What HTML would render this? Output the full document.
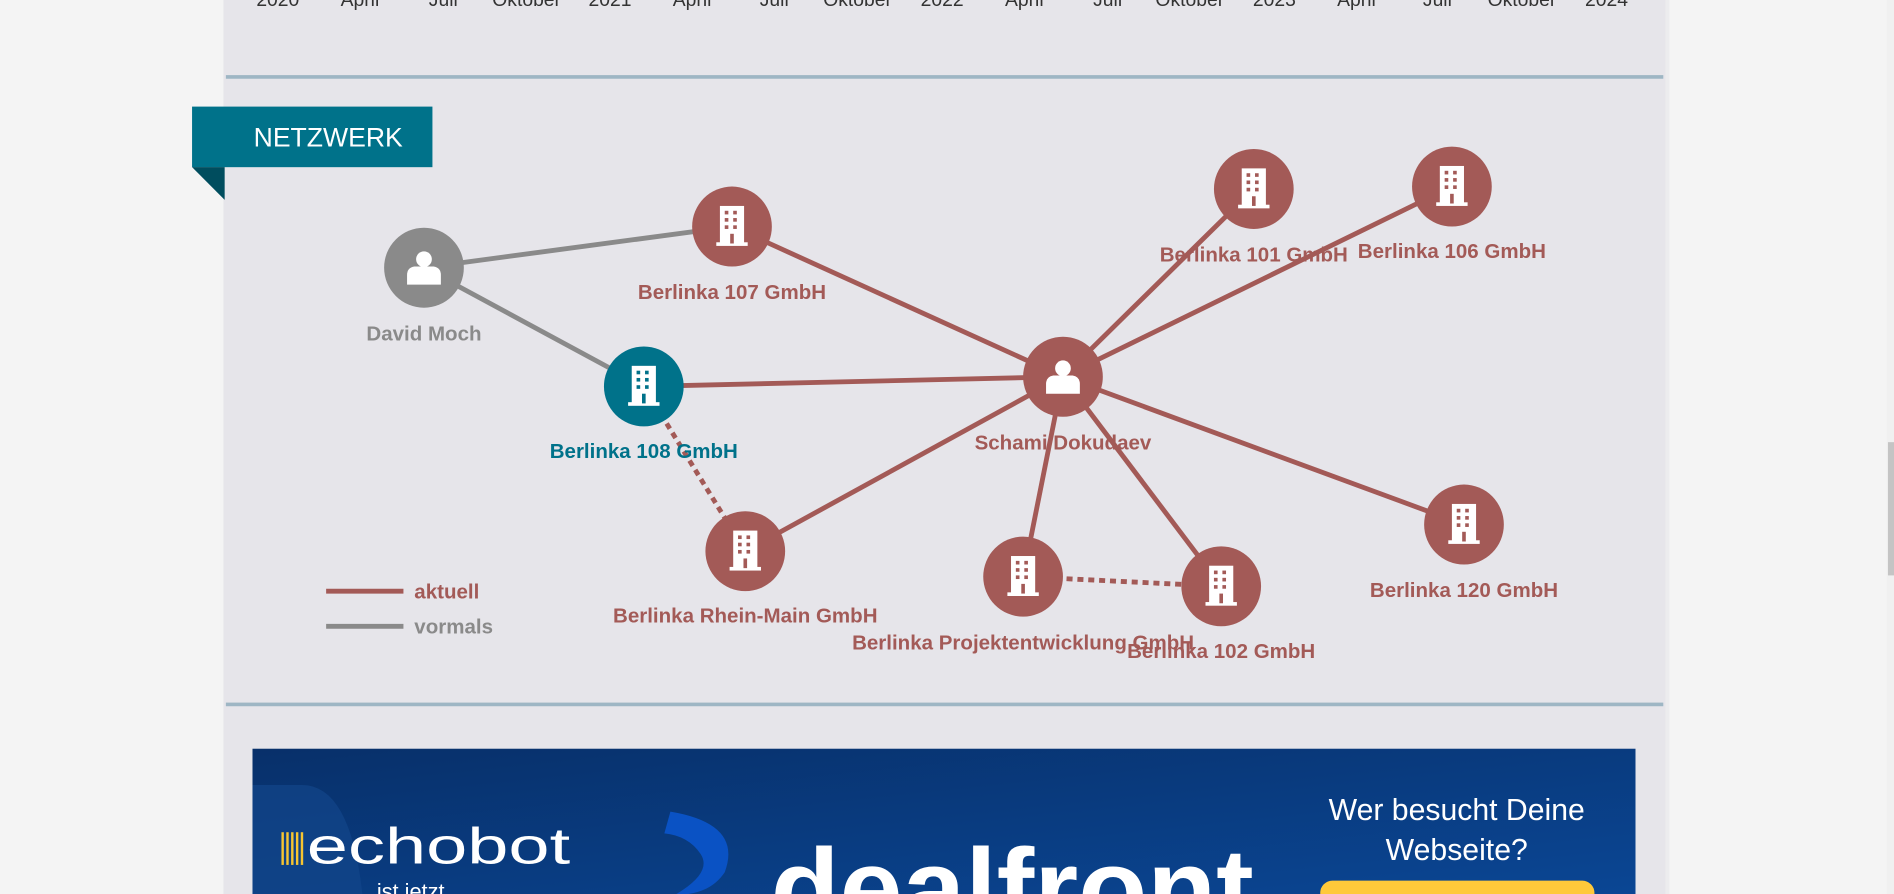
<!DOCTYPE html>
<html><head><meta charset="utf-8"><style>
html,body{margin:0;padding:0;width:1894px;height:894px;overflow:hidden;background:#f4f4f4}
svg{display:block}
text{font-family:"Liberation Sans",sans-serif}
</style></head><body>
<svg width="1894" height="894" viewBox="0 0 1568 738" preserveAspectRatio="none" xmlns="http://www.w3.org/2000/svg">
<defs>
<g id="bld"><rect x="-10" y="-17" width="20" height="32" fill="#fff"/><rect x="-13" y="13" width="26" height="3" fill="#fff"/>
<g fill="#a35a57"><rect x="-6" y="-13" width="3" height="3"/><rect x="1" y="-13" width="3" height="3"/><rect x="-6" y="-7" width="3" height="3"/><rect x="1" y="-7" width="3" height="3"/><rect x="-6" y="-1" width="3" height="3"/><rect x="1" y="-1" width="3" height="3"/><rect x="-1.5" y="6" width="3" height="8"/></g></g>
<g id="per"><circle cx="0" cy="-7" r="6.5" fill="#fff"/><path d="M-14 14 V6 Q-14 0 -8 -1 H8 Q14 0 14 6 V14 Z" fill="#fff"/></g>
<linearGradient id="ad" x1="0" y1="0" x2="1" y2="1"><stop offset="0" stop-color="#08306a"/><stop offset="1" stop-color="#0a4694"/></linearGradient>
<clipPath id="adc"><rect x="209" y="618" width="1145" height="120"/></clipPath>
</defs>
<rect x="0" y="0" width="1568" height="738" fill="#f4f4f4"/>
<rect x="185" y="0" width="1194" height="738" fill="#e6e5ea"/>
<rect x="1379" y="0" width="3" height="738" fill="#ececee"/>
<rect x="1562" y="0" width="6" height="738" fill="#f0f0f0"/>
<rect x="1563" y="365" width="5" height="110" fill="#c4c4c4"/>
<g font-size="16" fill="#333" text-anchor="middle">
<text x="230" y="5">2020</text><text x="298" y="5">April</text><text x="367" y="5">Juli</text><text x="436" y="5">Oktober</text>
<text x="505" y="5">2021</text><text x="573" y="5">April</text><text x="641" y="5">Juli</text><text x="710" y="5">Oktober</text>
<text x="780" y="5">2022</text><text x="848" y="5">April</text><text x="917" y="5">Juli</text><text x="985" y="5">Oktober</text>
<text x="1055" y="5">2023</text><text x="1123" y="5">April</text><text x="1190" y="5">Juli</text><text x="1260" y="5">Oktober</text><text x="1330" y="5">2024</text>
</g>
<rect x="187" y="62" width="1190" height="3" fill="#9eb6c4"/>
<rect x="187" y="580" width="1190" height="3" fill="#9eb6c4"/>
<rect x="159" y="88" width="199" height="50" fill="#00728a"/>
<polygon points="159,138 186,138 186,165" fill="#004d5e"/>
<text x="210" y="121" font-size="22" fill="#fff">NETZWERK</text>
<g stroke-width="4" fill="none">
<line x1="351" y1="221" x2="606" y2="187" stroke="#8a8a8a"/>
<line x1="351" y1="221" x2="533" y2="319" stroke="#8a8a8a"/>
<g stroke="#a35a57">
<line x1="880" y1="311" x2="606" y2="187"/><line x1="880" y1="311" x2="533" y2="319"/>
<line x1="880" y1="311" x2="1038" y2="156"/><line x1="880" y1="311" x2="1202" y2="154"/>
<line x1="880" y1="311" x2="617" y2="455"/><line x1="880" y1="311" x2="847" y2="476"/>
<line x1="880" y1="311" x2="1011" y2="484"/><line x1="880" y1="311" x2="1212" y2="433"/>
<line x1="533" y1="319" x2="617" y2="455" stroke-dasharray="5,4"/>
<line x1="847" y1="476" x2="1011" y2="484" stroke-dasharray="5,4"/>
<line x1="270" y1="488" x2="334" y2="488"/>
</g>
<line x1="270" y1="517" x2="334" y2="517" stroke="#8a8a8a"/>
</g>
<g>
<circle cx="351" cy="221" r="33" fill="#8a8a8a"/><use href="#per" x="351" y="221"/>
<circle cx="606" cy="187" r="33" fill="#a35a57"/><use href="#bld" x="606" y="187"/>
<circle cx="533" cy="319" r="33" fill="#00728a"/>
<g transform="translate(533,319)"><rect x="-10" y="-17" width="20" height="32" fill="#fff"/><rect x="-13" y="13" width="26" height="3" fill="#fff"/><g fill="#00728a"><rect x="-6" y="-13" width="3" height="3"/><rect x="1" y="-13" width="3" height="3"/><rect x="-6" y="-7" width="3" height="3"/><rect x="1" y="-7" width="3" height="3"/><rect x="-6" y="-1" width="3" height="3"/><rect x="1" y="-1" width="3" height="3"/><rect x="-1.5" y="6" width="3" height="8"/></g></g>
<circle cx="880" cy="311" r="33" fill="#a35a57"/><use href="#per" x="880" y="311"/>
<circle cx="1038" cy="156" r="33" fill="#a35a57"/><use href="#bld" x="1038" y="156"/>
<circle cx="1202" cy="154" r="33" fill="#a35a57"/><use href="#bld" x="1202" y="154"/>
<circle cx="617" cy="455" r="33" fill="#a35a57"/><use href="#bld" x="617" y="455"/>
<circle cx="847" cy="476" r="33" fill="#a35a57"/><use href="#bld" x="847" y="476"/>
<circle cx="1011" cy="484" r="33" fill="#a35a57"/><use href="#bld" x="1011" y="484"/>
<circle cx="1212" cy="433" r="33" fill="#a35a57"/><use href="#bld" x="1212" y="433"/>
</g>
<g font-size="17" font-weight="bold" text-anchor="middle" fill="#a35a57">
<text x="351" y="281" fill="#8a8a8a">David Moch</text>
<text x="606" y="247">Berlinka 107 GmbH</text>
<text x="533" y="378" fill="#00728a">Berlinka 108 GmbH</text>
<text x="880" y="371">Schami Dokudaev</text>
<text x="1038" y="216">Berlinka 101 GmbH</text>
<text x="1202" y="213">Berlinka 106 GmbH</text>
<text x="617" y="514">Berlinka Rhein-Main GmbH</text>
<text x="847" y="536">Berlinka Projektentwicklung GmbH</text>
<text x="1011" y="543">Berlinka 102 GmbH</text>
<text x="1212" y="493">Berlinka 120 GmbH</text>
<text x="343" y="494" text-anchor="start">aktuell</text>
<text x="343" y="523" text-anchor="start" fill="#8a8a8a">vormals</text>
</g>
<g clip-path="url(#adc)">
<rect x="209" y="618" width="1145" height="120" fill="url(#ad)"/>
<path d="M209 648 H250 Q290 648 300 738 H209 Z" fill="#12468a" opacity="0.7"/>
<g fill="#f7c531"><rect x="233" y="687" width="2" height="27"/><rect x="237" y="687" width="2" height="27"/><rect x="241" y="687" width="2" height="27"/><rect x="245" y="687" width="2" height="27"/><rect x="249" y="687" width="2" height="27"/></g>
<text x="254" y="713" font-size="42" fill="#fff" textLength="218" lengthAdjust="spacingAndGlyphs">echobot</text>
<text x="312" y="742" font-size="18" fill="#fff">ist jetzt</text>
<path d="M555 670 Q615 680 600 720 Q590 735 570 738 L560 738 Q590 720 580 705 Q570 690 550 688 Z" fill="#0a52c4"/>
<text x="638" y="765" font-size="92" fill="#fff" font-weight="bold" textLength="400" lengthAdjust="spacingAndGlyphs">dealfront</text>
<text x="1206" y="677" font-size="25" fill="#fff" text-anchor="middle">Wer besucht Deine</text>
<text x="1206" y="710" font-size="25" fill="#fff" text-anchor="middle">Webseite?</text>
<rect x="1093" y="727" width="227" height="30" rx="10" fill="#ffc93a"/>
</g>
</svg>
</body></html>
